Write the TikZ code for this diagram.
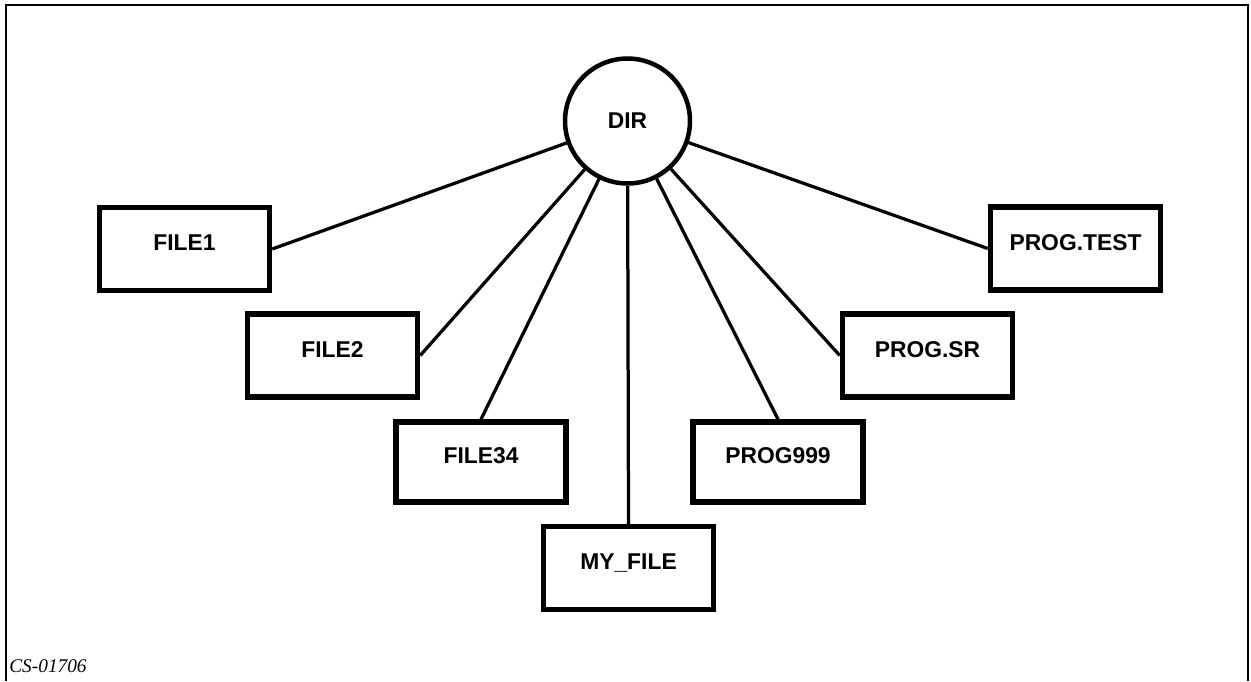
\documentclass[tikz,border=0pt]{standalone}
\usepackage{fontspec}
\setmainfont{Liberation Serif}
\setsansfont{Liberation Sans}
\usepackage{tikz}

\begin{document}
\begin{tikzpicture}
[
    x = 0.02cm, y = -0.02cm,
    filebox/.style = {draw, line width = 0.11cm, minimum width = 3.4cm, minimum height = 1.66cm,
        text height = 0.32cm, text depth = 0.26cm,
        font = \sffamily\bfseries\fontsize{13}{15}\selectfont},
    dirnode/.style = {draw, circle, line width = 0.09cm, minimum size = 2.5cm,
        font = \sffamily\bfseries\fontsize{13}{15}\selectfont},
    link/.style = {line width = 0.065cm},
]
\useasboundingbox (0,0) rectangle (1251,681);
\draw[line width = 0.03cm] (6,681) -- (6,5) -- (1248,5) -- (1248,681);

\node[dirnode] (dir) at (627.5,121) {DIR};

\node[filebox] (file1) at (184.5,249) {FILE1};
\node[filebox] (file2) at (332.5,355.5) {FILE2};
\node[filebox, minimum height = 1.6cm] (file34) at (481,462) {FILE34};
\node[filebox] (myfile) at (628.5,568) {MY\_FILE};
\node[filebox, minimum height = 1.6cm] (prog999) at (778,462) {PROG999};
\node[filebox] (progsr) at (927.5,355.5) {PROG.SR};
\node[filebox] (progtest) at (1075.5,248.5) {PROG.TEST};

\draw[link] (dir) -- (file1.east);
\draw[link] (dir) -- (file2.east);
\draw[link] (dir) -- (file34.north);
\draw[link] (dir) -- (myfile.north);
\draw[link] (dir) -- (prog999.north);
\draw[link] (dir) -- (progsr.west);
\draw[link] (dir) -- (progtest.west);

\node[anchor = base west, inner sep = 0pt, font = \itshape\fontsize{11}{13}\selectfont] (code) at (9,672) {CS-01706};
\end{tikzpicture}
\end{document}
